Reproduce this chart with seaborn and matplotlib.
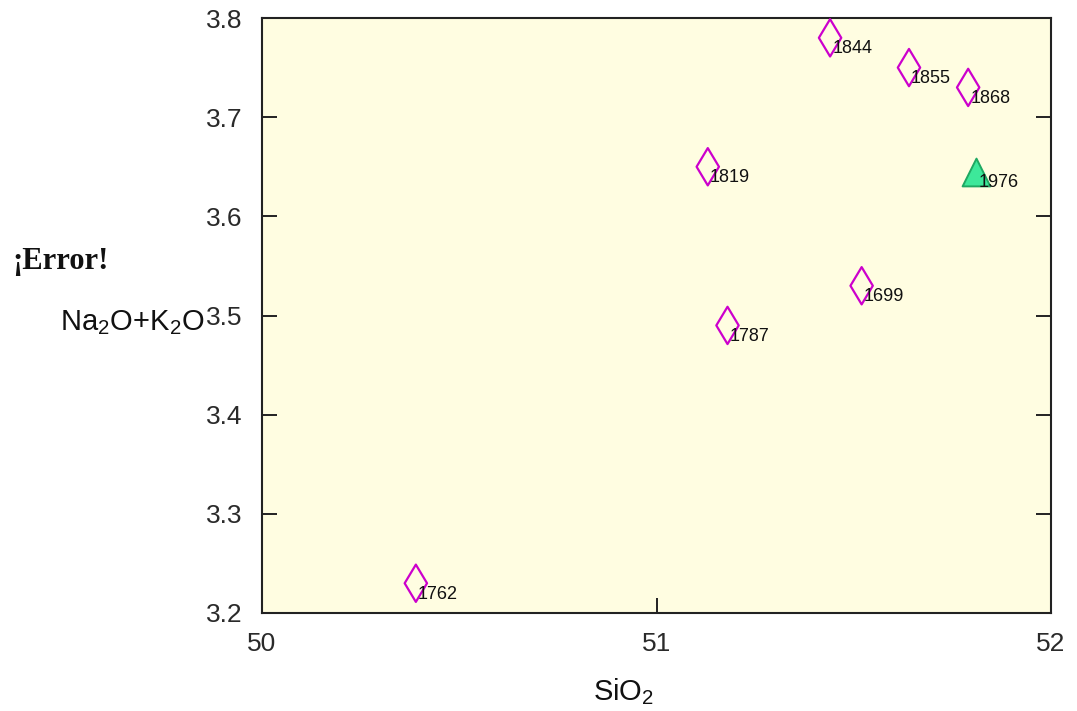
import matplotlib
matplotlib.use("Agg")
import matplotlib.pyplot as plt
import seaborn as sns
import pandas as pd

# Data
sio2 = [51.44, 51.64, 51.79, 51.13, 51.52, 51.18, 50.39, 51.81]
alkali = [3.78, 3.75, 3.73, 3.65, 3.53, 3.49, 3.23, 3.645]
years = ["1844", "1855", "1868", "1819", "1699", "1787", "1762", "1976"]
kind = ["old"] * 7 + ["new"]
xticks = [50, 51, 52]
yticks = [3.2, 3.3, 3.4, 3.5, 3.6, 3.7, 3.8]

df = pd.DataFrame({"SiO2": sio2, "alk": alkali, "year": years, "kind": kind})

sns.set_theme(style="ticks")
plt.rcParams["font.family"] = ["Liberation Sans", "DejaVu Sans"]
plt.rcParams["mathtext.default"] = "regular"

fig = plt.figure(figsize=(10.77, 7.11), dpi=100)
ax = fig.add_axes([262 / 1077, 1 - 613 / 711, (1051 - 262) / 1077, (613 - 18) / 711])
ax.set_facecolor("#FFFDE1")

old = df[df["kind"] == "old"]
new = df[df["kind"] == "new"]
sns.scatterplot(data=old, x="SiO2", y="alk", marker="d", s=19 ** 2,
                facecolor="none", edgecolor="#CC00CC", linewidth=1.6, ax=ax, zorder=3)
sns.scatterplot(data=new, x="SiO2", y="alk", marker="^", s=20 ** 2,
                color="#3DE89A", edgecolor="#1FA862", linewidth=1.4, ax=ax, zorder=3)

for _, r in df.iterrows():
    ax.annotate(r["year"], (r["SiO2"], r["alk"]), xytext=(1.5, -8),
                textcoords="offset points", ha="left", va="center",
                fontsize=13, color="#111111", zorder=4)

ax.set_xlim(50, 52)
ax.set_ylim(3.2, 3.8)
ax.set_xticks(xticks)
ax.set_xticklabels([str(v) for v in xticks])
ax.set_yticks(yticks)
ax.set_yticklabels([f"{v:.1f}" for v in yticks])

for s in ax.spines.values():
    s.set_visible(True)
    s.set_linewidth(1.5)
    s.set_color("#222222")

ax.tick_params(axis="both", direction="in", length=11, width=1.4, color="#222222",
               labelsize=19, labelcolor="#2a2a2a", pad=14)
ax.tick_params(axis="y", right=True, left=True)
ax.tick_params(axis="x", top=False, bottom=True)

ax.set_xlabel("SiO$_2$", fontsize=21, color="#111111")
ax.xaxis.label.set_va("center")
ax.xaxis.set_label_coords((624 - 262) / 789, -(692 - 613) / 595)

ax.set_ylabel("Na$_2$O+K$_2$O", fontsize=21, color="#111111", rotation=0,
              ha="right", va="center")
ax.yaxis.set_label_coords((204 - 262) / 789, (613 - 323) / 595)

fig.text(12 / 1077, 1 - 262 / 711, "¡Error!", fontsize=22, fontweight="bold",
         family=["Liberation Serif", "DejaVu Serif"], ha="left", va="center",
         color="#111111")

fig.savefig("out.png", dpi=100)
